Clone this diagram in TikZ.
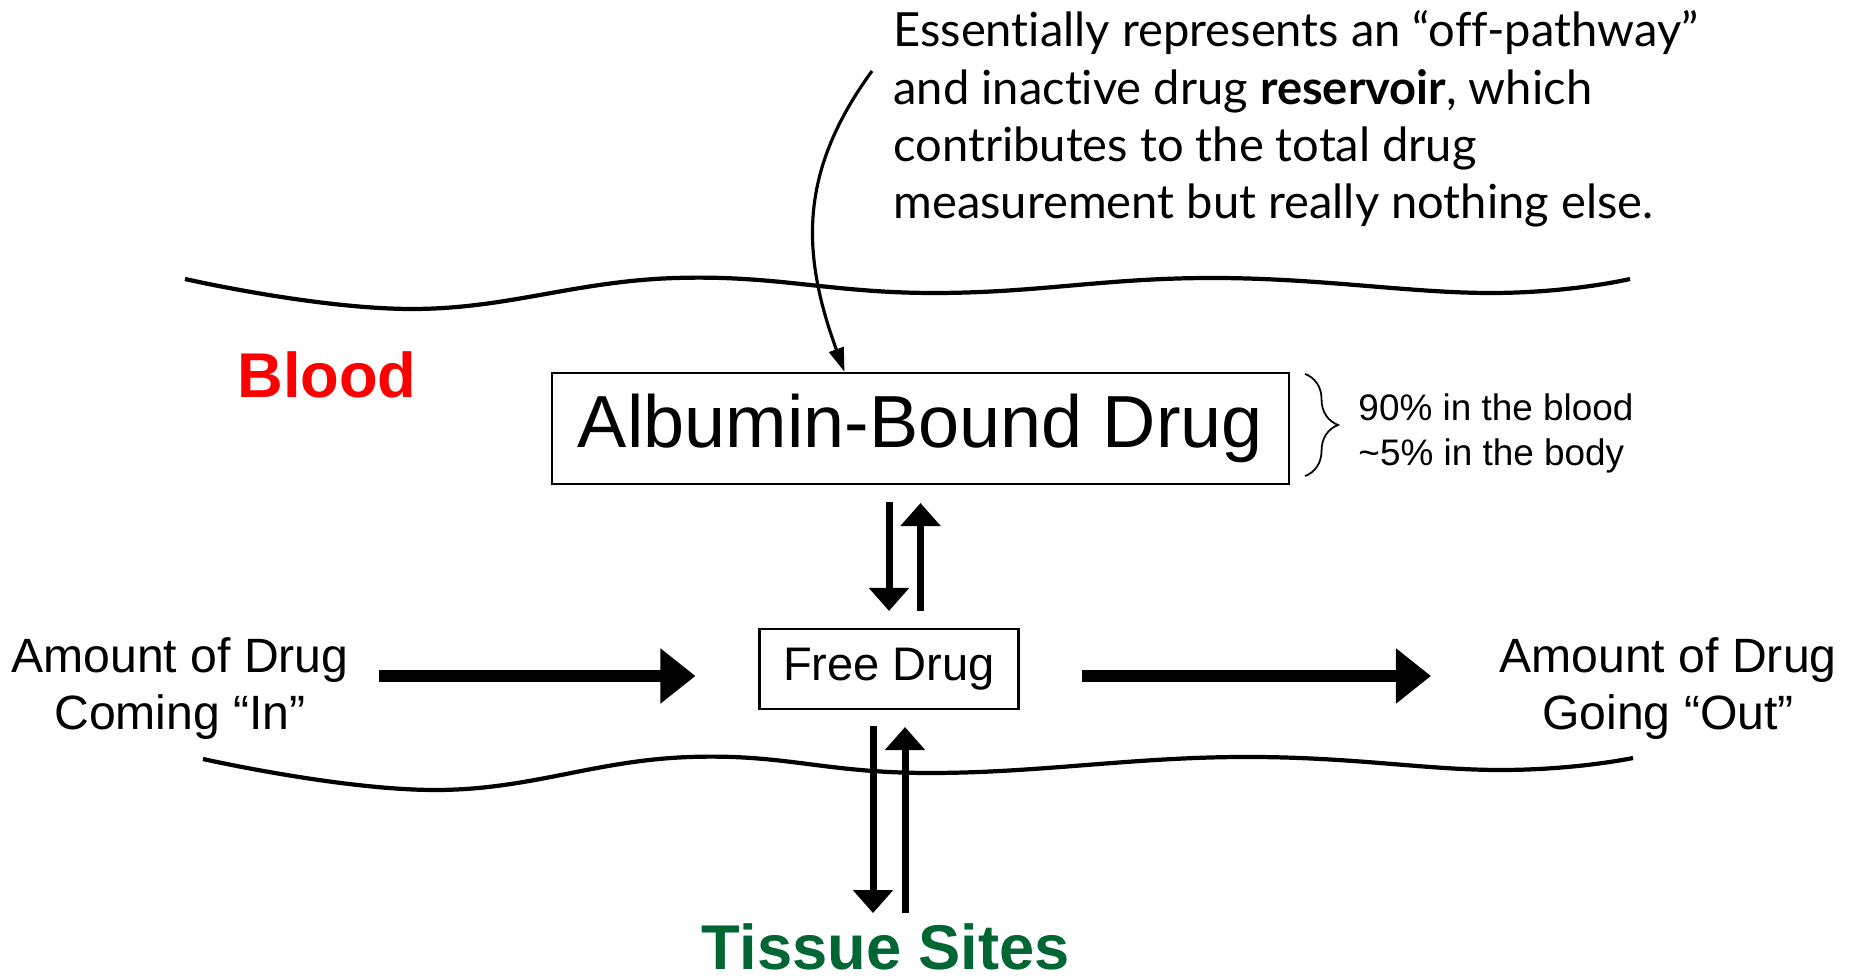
\documentclass[tikz,border=0pt]{standalone}
\usepackage{fontspec}
\setmainfont{Liberation Sans}
\newfontfamily\notefont[Ligatures={NoCommon,NoRare}]{Lato}
\usepackage{tikz}
\usetikzlibrary{arrows.meta,decorations.pathreplacing,positioning}
\definecolor{bloodred}{RGB}{255,0,0}
\definecolor{tissuegreen}{RGB}{0,102,51}

\begin{document}
\begin{tikzpicture}
		\tikzstyle{box}=[rectangle, draw=black, line width=0.6pt]
		\tikzstyle{push}=[line width=3.4pt, -{Triangle[length=0.35cm, width=0.53cm]}]
		\tikzstyle{flow}=[line width=2pt, -{Triangle[length=0.23cm, width=0.39cm]}]
		\tikzstyle{pointer}=[line width=0.9pt, -{Triangle[length=0.24cm, width=0.15cm]}]
		\tikzstyle{wave}=[line width=1.2pt]
		\tikzstyle{region}=[inner sep=0pt, font=\fontsize{18}{21}\selectfont\bfseries]
		\useasboundingbox (0,0) rectangle (18.51,-9.77);
		
		\node[box, minimum width=7.37cm, minimum height=1.11cm, font=\fontsize{21}{25}\selectfont] (bound) at (9.205,-4.285) {Albumin-Bound Drug};
		\node[box, minimum width=2.59cm, minimum height=0.80cm, font=\fontsize{13.4}{16}\selectfont] (free) at (8.89,-6.69) {Free Drug};
		
		\node[region, text=bloodred] (blood) at (3.27,-3.75) {Blood};
		\node[region, text=tissuegreen] (tissue) at (8.86,-9.47) {Tissue Sites};
		
		\node[align=center, font=\fontsize{13.7}{16.2}\selectfont] (drugin) at (1.80,-6.89) {Amount of Drug\\Coming “In”};
		\node[align=center, font=\fontsize{13.7}{16.2}\selectfont] (drugout) at (16.68,-6.89) {Amount of Drug\\Going “Out”};
		
		\node[align=left, font=\fontsize{10.5}{12.8}\selectfont] (share) [right=0.56cm of bound, yshift=-0.05cm] {90\% in the blood\\\textasciitilde5\% in the body};
		\node[align=left, anchor=west, font=\notefont\fontsize{13.4}{16.3}\selectfont] (note) at (8.81,-1.19) {Essentially represents an “off-pathway”\\and inactive drug \textbf{reservoir}, which\\contributes to the total drug\\measurement but really nothing else.};
		
		% membranes
		\draw[wave] plot[smooth, tension=0.7] coordinates {(1.85,-2.79) (4.13,-3.09) (6.76,-2.78) (9.34,-2.93) (12.12,-2.78) (14.89,-2.93) (16.30,-2.79)};
		\draw[wave] plot[smooth, tension=0.7] coordinates {(2.03,-7.59) (4.37,-7.90) (6.90,-7.57) (9.30,-7.73) (12.40,-7.57) (14.99,-7.70) (16.33,-7.58)};
		
		\draw[pointer] ([shift={(-0.09cm,0.48cm)}]note.west) .. controls (8.00,-1.70) and (8.00,-2.50) .. ([xshift=-0.76cm]bound.north);
		
		\draw[decorate, decoration={brace, amplitude=0.33cm}, line width=0.5pt] ([shift={(0.15cm,-0.02cm)}]bound.north east) -- ([shift={(0.15cm,0.09cm)}]bound.south east);
		
		\path ([yshift=-0.07cm]free.west -| drugin.east) edge [push, shorten <=0.18cm, shorten >=0.63cm] ([yshift=-0.07cm]free.west);
		\path ([yshift=-0.07cm]free.east) edge [push, shorten <=0.62cm, shorten >=0.56cm] ([yshift=-0.07cm]free.east -| drugout.west);
		
		\path ([yshift=-0.17cm]bound.south -| free.north) edge [flow] ([yshift=0.17cm]free.north);
		\path ([yshift=0.17cm]free.north -| bound.south) edge [flow] ([yshift=-0.18cm]bound.south);
		
		\path ([xshift=-0.16cm, yshift=-0.16cm]free.south) edge [flow] ([xshift=-0.16cm, yshift=0.10cm]free.south |- tissue.north);
		\path ([xshift=0.16cm, yshift=0.10cm]free.south |- tissue.north) edge [flow] ([xshift=0.16cm, yshift=-0.17cm]free.south);
	\end{tikzpicture}
\end{document}
